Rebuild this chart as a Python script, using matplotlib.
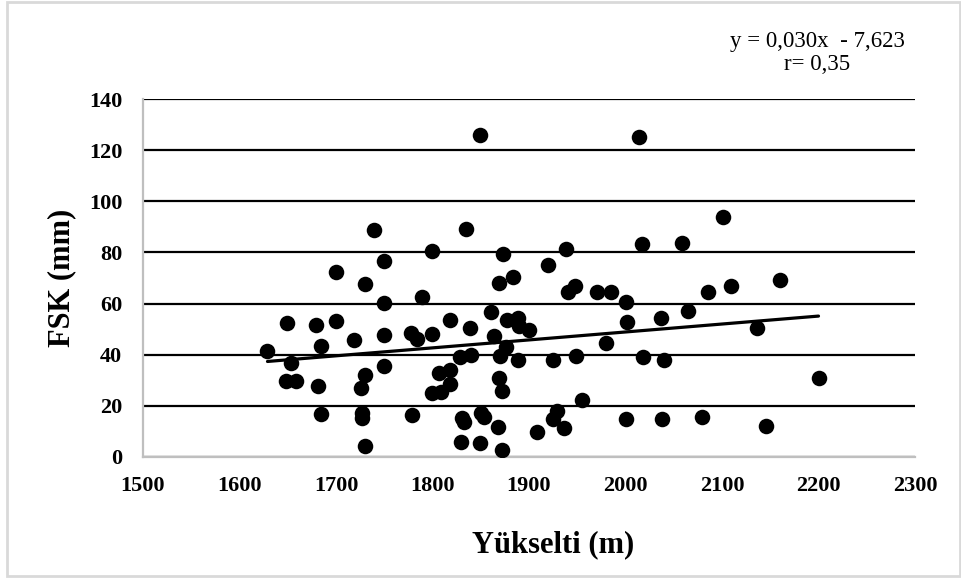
import numpy as np
import matplotlib.pyplot as plt
from matplotlib.patches import Rectangle

# elevation (m) and FSK (mm)
yukselti = [1849, 1739, 1835, 1799, 1873, 1750, 1700, 1730, 1883, 1869,
            1750, 1789, 1861, 1649, 1679, 1700, 1818, 1839, 1877, 1889,
            1890, 1900, 1719, 1750, 1778, 1784, 1799, 1864, 1684, 1629,
            1653, 1876, 1829, 1840, 1870, 1889, 1750, 1648, 1659, 1681,
            1730, 1726, 1807, 1818, 1818, 1799, 1809, 1869, 1872, 1684,
            1727, 1727, 1779, 1831, 1833, 1850, 1853, 1868, 1908, 1730,
            1830, 1849, 1872,
            2014, 2101, 2017, 2059, 1938, 1920, 2160, 2109, 2086, 1948,
            1940, 1970, 1985, 2000, 2065, 2002, 2037, 2136, 1980, 1925,
            1949, 2018, 2040, 2200, 1955, 1929, 1925, 1936, 2000, 2038,
            2079, 2146]
fsk = [125.9, 88.8, 89.3, 80.7, 79.3, 76.5, 72.2, 67.7, 70.3, 68.1,
       60.1, 62.7, 56.8, 52.5, 51.5, 53.2, 53.4, 50.4, 53.4, 54.3,
       51.4, 49.7, 45.7, 47.6, 48.6, 46.2, 48.2, 47.2, 43.6, 41.4,
       36.7, 43.2, 39.3, 39.7, 39.4, 37.8, 35.7, 29.7, 29.7, 27.6,
       32.2, 27.0, 32.8, 33.9, 28.4, 25.1, 25.4, 31.0, 25.7, 16.8,
       17.2, 15.4, 16.3, 15.2, 13.8, 17.2, 15.6, 11.7, 9.8, 4.2,
       5.9, 5.5, 2.9,
       125.3, 93.7, 83.3, 83.7, 81.2, 75.2, 69.3, 66.8, 64.7, 66.8,
       64.4, 64.7, 64.7, 60.8, 57.2, 52.9, 54.3, 50.5, 44.7, 38.1,
       39.6, 39.2, 37.8, 30.7, 22.3, 17.8, 15.0, 11.2, 15.0, 15.0,
       15.6, 12.3]

x_ticks = [1500, 1600, 1700, 1800, 1900, 2000, 2100, 2200, 2300]
y_ticks = [0, 20, 40, 60, 80, 100, 120, 140]
equation = "y = 0,030x  - 7,623"
r_text = "r= 0,35"

plt.rcParams['font.family'] = ['Liberation Serif', 'DejaVu Serif']

fig = plt.figure(figsize=(9.61, 5.81), dpi=100)
ax = fig.add_axes([143 / 961, 1 - 457 / 581, 772 / 961, 358 / 581])

x = np.array(yukselti)
y = np.array(fsk)
ax.scatter(x, y, s=125, color='black', zorder=3, linewidths=0)

# least squares trend line over the data range
slope, intercept = np.polyfit(x, y, 1)
xs = np.array([x.min(), x.max()])
ax.plot(xs, slope * xs + intercept, color='black', lw=2.3, zorder=4,
        solid_capstyle='round')

ax.set_xlim(1500, 2300)
ax.set_ylim(0, 140)
ax.set_xticks(x_ticks)
ax.set_yticks(y_ticks)
ax.tick_params(length=0, labelsize=16)
ax.tick_params(axis='x', pad=14)
ax.tick_params(axis='y', pad=15)
for lbl in ax.get_xticklabels() + ax.get_yticklabels():
    lbl.set_fontweight('bold')

ax.set_axisbelow(True)
ax.yaxis.grid(True, color='black', lw=1.6)
for side in ['top', 'right']:
    ax.spines[side].set_visible(False)
for side in ['left', 'bottom']:
    ax.spines[side].set_color('#bfbfbf')
    ax.spines[side].set_linewidth(1.6)

ax.set_xlabel('Yükselti (m)', fontsize=22, fontweight='bold')
ax.xaxis.set_label_coords((553 - 143) / 772, -(545 - 457) / 358)
ax.xaxis.label.set_verticalalignment('center')
ax.set_ylabel('FSK (mm)', fontsize=22, fontweight='bold')
ax.yaxis.set_label_coords(-(143 - 62) / 772, 0.5)
ax.yaxis.label.set_verticalalignment('center')

fig.text(817 / 961, 1 - 42 / 581, equation, fontsize=16.5, ha='center', va='center')
fig.text(817 / 961, 1 - 65 / 581, r_text, fontsize=16.5, ha='center', va='center')

fig.patches.append(Rectangle((7 / 961, 5 / 581), 953 / 961, 574 / 581,
                             transform=fig.transFigure, fill=False,
                             edgecolor='#d9d9d9', lw=2))

fig.savefig('out.png', dpi=100)
